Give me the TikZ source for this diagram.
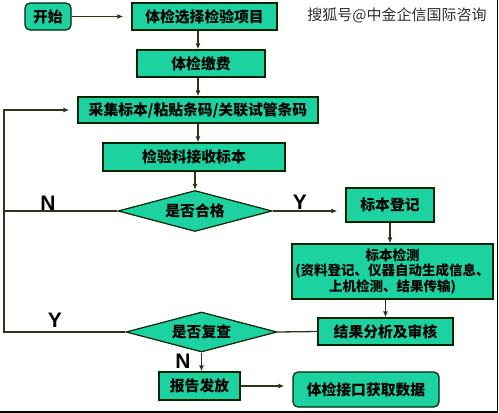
\documentclass[tikz,border=0pt]{standalone}
\usepackage{fontspec}
\newfontfamily\cjk{Noto Sans CJK SC}
\newfontfamily\lsans{Liberation Sans}
\usetikzlibrary{arrows.meta,shapes.geometric}
\definecolor{boxfill}{RGB}{28,210,160}
\definecolor{lineclr}{RGB}{50,50,30}
\tikzset{
  box/.style={draw=black!85!green, line width=1.2pt, fill=boxfill, inner sep=0pt,
    font=\cjk\bfseries\fontsize{14.8}{16}\selectfont, align=center},
  rbox/.style={box, rounded corners=5pt},
  dia/.style={draw=black!85!green, line width=1.2pt, fill=boxfill, diamond, aspect=3.7, inner sep=0pt,
    font=\cjk\bfseries\fontsize{14.8}{16}\selectfont},
  conn/.style={draw=lineclr, line width=1.3pt},
  arr/.style={conn, -{Latex[length=6pt,width=5pt]}},
  lab/.style={font=\lsans\bfseries\fontsize{21}{21}\selectfont, inner sep=0pt}
}
\begin{document}
\begin{tikzpicture}[x=1pt,y=-1pt]
\useasboundingbox (0,0) rectangle (499,413);
\node[rbox, minimum width=46pt, minimum height=27pt] (start) at (48,16.5) {开始};
\node[box, minimum width=145pt, minimum height=27pt] (n1) at (204.5,16.5) {体检选择检验项目};
\node[box, minimum width=128pt, minimum height=27pt] (n2) at (201,63.5) {体检缴费};
\node[box, minimum width=240pt, minimum height=26pt] (n3) at (198,110) {采集标本/粘贴条码/关联试管条码};
\node[box, minimum width=182pt, minimum height=28pt] (n4) at (194,157) {检验科接收标本};
\node[dia, minimum width=154pt, minimum height=41pt] (d1) at (195,211) {是否合格};
\node[box, minimum width=88pt, minimum height=34pt] (n5) at (390,205) {标本登记};
\node[box, minimum width=201pt, minimum height=55pt, font=\cjk\bfseries\fontsize{13.5}{15.5}\selectfont] (n6) at (392.5,271.5) {标本检测\\(资料登记、仪器自动生成信息、\\上机检测、结果传输)};
\node[box, minimum width=135pt, minimum height=27pt] (n7) at (385.5,331.5) {结果分析及审核};
\node[dia, minimum width=151pt, minimum height=40pt] (d2) at (201.5,332) {是否复查};
\node[box, minimum width=81pt, minimum height=28pt] (n8) at (199.5,386) {报告发放};
\node[rbox, minimum width=146pt, minimum height=35pt] (n9) at (366,389.5) {体检接口获取数据};
\node[font=\cjk\fontsize{15}{15}\selectfont, text=black!82] (wm) at (397,15) {搜狐号@中金企信国际咨询};
\coordinate (lt) at (4,110);
\coordinate (lm) at (4,211);
\coordinate (lb) at (4,332);
% connectors
\draw[arr, shorten >=8pt] (start) -- (n1);
\draw[arr] (n1.south -| n3.north) -- (n2.north -| n3.north);
\draw[arr] (n2.south -| n3.north) -- (n3.north);
\draw[arr] (n3.south -| n3.north) -- (n4.north -| n3.north);
\draw[arr] (n4.south -| d1.north) -- (d1.north);
\draw[arr, shorten >=8pt] (d1.east) -- (d1.east -| n5.west);
\draw[arr] (n5.south) -- (n5.south |- n6.north);
\draw[arr] (n7.north |- n6.south) -- (n7.north);
\draw[conn] (n7.west) -- (d2.east);
\draw[arr] (d2.south) -- (d2.south |- n8.north);
\draw[arr, shorten >=8pt] (n8.east) -- (n8.east -| n9.west);
\draw[conn] (d1.west) -- (lm);
\draw[arr, shorten >=8pt] (d2.west) -- (lb) -- (lt) -- (lt -| n3.west);
% labels
\node[lab] (ln1) at (48,203.5) {N};
\node[lab] (ly1) at (300,202) {Y};
\node[lab] (ly2) at (55,320) {Y};
\node[lab] (ln2) at (183,361) {N};
% frame edges
\draw[line width=1.5pt] (0,411.8) -- (497.6,411.8) -- (497.6,0);
\end{tikzpicture}
\end{document}
